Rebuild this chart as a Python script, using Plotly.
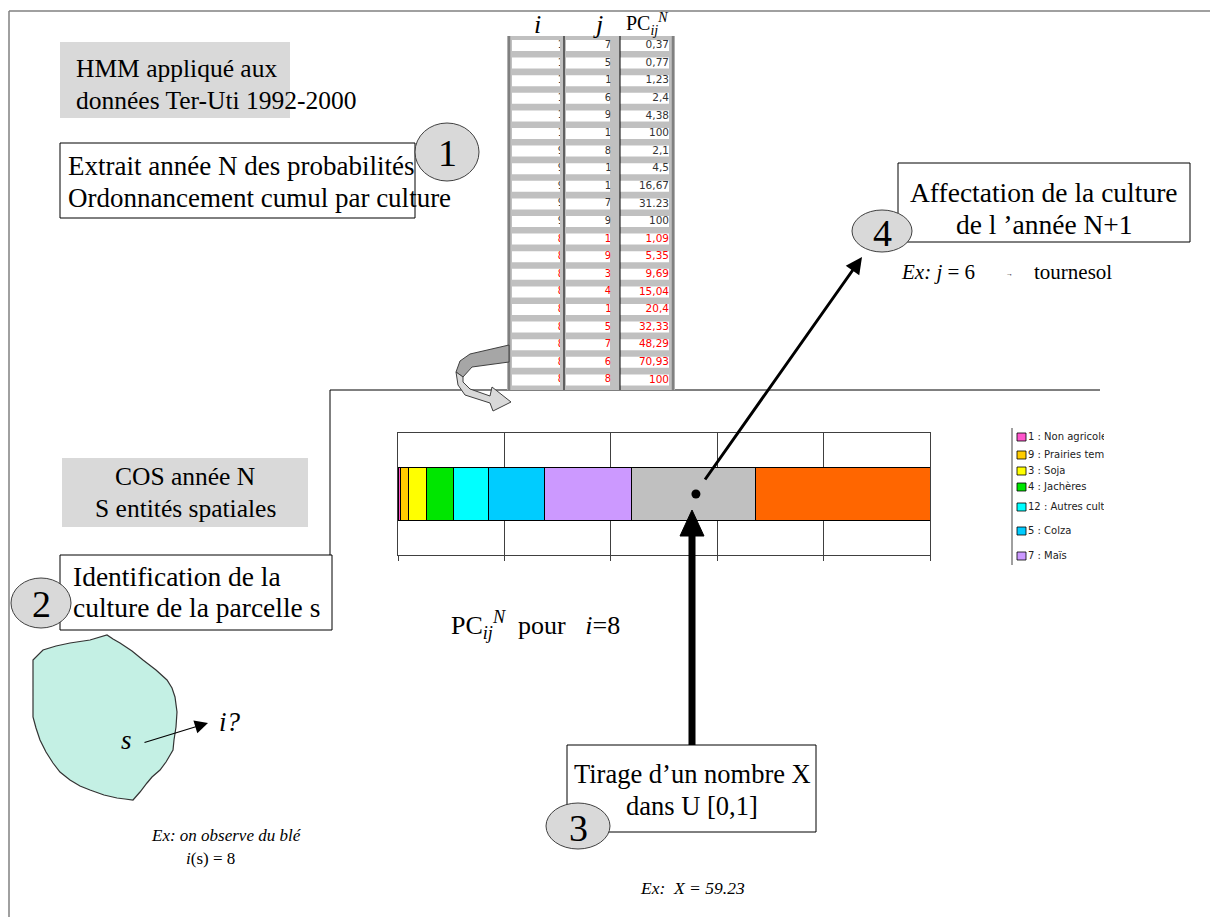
import plotly.graph_objects as go

W, H = 1218, 917
OFF = 8  # browser body margin compensation
SERIF = "Liberation Serif"
SANS = "DejaVu Sans"

# ---------------- data ----------------
# probability table (year N) : i, j, cumulated PC_ij^N
tbl_i = [1, 1, 1, 1, 1, 1, 9, 9, 9, 9, 9, 8, 8, 8, 8, 8, 8, 8, 8, 8]
tbl_j = [7, 5, 12, 6, 9, 1, 8, 12, 1, 7, 9, 1, 9, 3, 4, 12, 5, 7, 6, 8]
tbl_pc = ["0,37", "0,77", "1,23", "2,4", "4,38", "100", "2,1", "4,5", "16,67",
          "31.23", "100", "1,09", "5,35", "9,69", "15,04", "20,4", "32,33",
          "48,29", "70,93", "100"]

# stacked bar for i = 8 (segment widths, in %)
bar_j = [1, 9, 3, 4, 12, 5, 7, 6, 8]
bar_width = [0.5, 1.4, 3.4, 5.2, 6.6, 10.5, 16.2, 23.4, 32.8]
crop_color = {1: "#ff55cc", 9: "#ffcc00", 3: "#ffff00", 4: "#00e600",
              12: "#00ffff", 5: "#00ccff", 7: "#cc99ff", 6: "#c0c0c0", 8: "#ff6600"}

legend_j = [1, 9, 3, 4, 12, 5, 7]
legend_labels = ["1 : Non agricole", "9 : Prairies temporaires", "3 : Soja",
                 "4 : Jachères", "12 : Autres cultures", "5 : Colza", "7 : Maïs"]

draw_x = 56.0  # drawn point on the bar

# ---------------- figure ----------------
fig = go.Figure()

for j, w in zip(bar_j, bar_width):
    fig.add_trace(go.Bar(x=[w], y=[0], orientation="h", width=0.43,
                         marker=dict(color=crop_color[j], line=dict(color="#000", width=1)),
                         xaxis="x2", yaxis="y2", showlegend=False, hoverinfo="skip"))
fig.add_trace(go.Scatter(x=[draw_x], y=[0], mode="markers", xaxis="x2", yaxis="y2",
                         marker=dict(color="#000", size=9), showlegend=False, hoverinfo="skip"))

row_top0, row_pitch, row_h = 40, 17.6, 11
row_y = [row_top0 + row_pitch * k + row_h / 2 for k in range(len(tbl_i))]
row_col = ["#ff0000" if i == 8 else "#333333" for i in tbl_i]

fig.add_trace(go.Scatter(x=[564] * len(tbl_i), y=row_y, mode="text",
                         text=[str(v) for v in tbl_i], textposition="middle left",
                         textfont=dict(family=SANS, size=10, color=row_col),
                         showlegend=False, hoverinfo="skip"))
fig.add_trace(go.Scatter(x=[611 if v < 10 else 618 for v in tbl_j], y=row_y, mode="text",
                         text=[str(v) for v in tbl_j], textposition="middle left",
                         textfont=dict(family=SANS, size=10, color=row_col),
                         showlegend=False, hoverinfo="skip"))
fig.add_trace(go.Scatter(x=[669] * len(tbl_pc), y=row_y, mode="text",
                         text=tbl_pc, textposition="middle left",
                         textfont=dict(family=SANS, size=10.5, color=row_col),
                         showlegend=False, hoverinfo="skip"))

leg_y = [437, 455, 471, 487, 507, 531, 556]
fig.add_trace(go.Scatter(x=[1028] * len(legend_labels), y=leg_y, mode="text",
                         text=legend_labels, textposition="middle right",
                         textfont=dict(family=SANS, size=10, color="#222"),
                         showlegend=False, hoverinfo="skip"))

shapes = []


def rect(x0, y0, x1, y1, fill="white", line="#000", lw=1, layer="below"):
    shapes.append(dict(type="rect", x0=x0, y0=y0, x1=x1, y1=y1, xref="x", yref="y",
                       fillcolor=fill, line=dict(color=line, width=lw), layer=layer))


def line(x0, y0, x1, y1, color="#000", lw=1, layer="below"):
    shapes.append(dict(type="line", x0=x0, y0=y0, x1=x1, y1=y1, xref="x", yref="y",
                       line=dict(color=color, width=lw), layer=layer))


def ellipse(cx, cy, rx, ry):
    shapes.append(dict(type="circle", x0=cx - rx, y0=cy - ry, x1=cx + rx, y1=cy + ry,
                       xref="x", yref="y", fillcolor="#d9d9d9",
                       line=dict(color="#404040", width=1), layer="above"))


def path(d, fill, line_c="#404040", lw=1, layer="above"):
    shapes.append(dict(type="path", path=d, xref="x", yref="y", fillcolor=fill,
                       line=dict(color=line_c, width=lw), layer=layer))


# outer frame (bottom edge lies below the page)
line(9, 11, 1212, 11, color="#808080", lw=1.5)
line(9, 11, 9, 917, color="#808080", lw=1.5)
line(1212, 11, 1212, 917, color="#808080", lw=1.5)

rect(60, 42, 290, 118, fill="#d9d9d9", lw=0)
rect(60, 143, 415, 218)
rect(62, 458, 308, 527, fill="#d9d9d9", lw=0)
rect(60, 555, 332, 630)
rect(567, 745, 816, 832)
rect(898, 163, 1190, 242)

line(330, 390, 1100, 390)
line(330, 390, 330, 555)

rect(507, 36, 675, 390, fill="#c0c0c0", lw=0)
for k in range(len(tbl_i)):
    y0 = row_top0 + row_pitch * k
    rect(512, y0, 560, y0 + row_h, fill="white", lw=0)
    rect(566, y0, 610, y0 + row_h, fill="white", lw=0)
    rect(616, y0, 669, y0 + row_h, fill="white", lw=0)
rect(560, 36, 564, 390, fill="#c0c0c0", lw=0, layer="above")
rect(610.5, 36, 620, 390, fill="#c0c0c0", lw=0, layer="above")
line(509, 36, 509, 390, color="#808080", lw=2.5, layer="above")
line(564, 36, 564, 390, color="#000", lw=1, layer="above")
line(620, 36, 620, 390, color="#000", lw=1, layer="above")
line(673, 36, 673, 390, color="#808080", lw=2.5, layer="above")

path("M 509,345 L 470,354 L 460,361 L 456,372 L 463,377 L 472,367 L 509,362 Z", "#a6a6a6")
path("M 456,372 L 458,385 L 465,395 L 490,403 L 493,411 L 511,402 L 492,387 "
     "L 490,396 L 470,389 L 463,382 L 463,377 Z", "#d9d9d9")

line(1012, 428, 1012, 565, color="#404040")
for j, y in zip(legend_j, leg_y):
    rect(1017, y - 4, 1026, y + 4, fill=crop_color[j], line="#000", lw=0.8)
rect(1104, 420, 1205, 600, fill="white", lw=0, layer="above")
rect(1013, 563, 1104, 600, fill="white", lw=0, layer="above")

path("M 33,660 L 43,650 L 56,646 L 70,643 L 90,640 L 107,635 L 113,639 L 120,643 "
     "L 132,651 L 143,660 L 156,670 L 167,680 L 172,688 L 175,697 L 177,712 L 176,727 "
     "L 174,740 L 173,750 L 166,762 L 160,770 L 152,777 L 147,783 L 140,792 L 133,800 "
     "L 125,799 L 117,798 L 104,795 L 90,790 L 80,786 L 70,780 L 60,772 L 53,763 "
     "L 46,752 L 40,740 L 36,728 L 33,717 L 33,690 Z", "#c4f0e4", "#333333", 1.2, "below")

line(692, 745, 692, 532, lw=7, layer="above")
path("M 680,536 L 704,536 L 692,510 Z", "#000", "#000", 1)

ellipse(447, 152, 32, 29)
ellipse(41, 603, 30, 25)
ellipse(578, 826, 32, 23)
ellipse(882, 231, 30, 21)

fig.update_layout(shapes=shapes)

ann = []


def text(x, y, s, size=27, xanchor="left", italic=False, family=SERIF, color="#000"):
    ann.append(dict(x=x, y=y, xref="x", yref="y", text=s, showarrow=False,
                    xanchor=xanchor, yanchor="middle", align=xanchor if xanchor != "center" else "center",
                    font=dict(family=family, size=size, color=color,
                              style="italic" if italic else "normal")))


text(74, 68, "HMM appliqué aux", 25.5)
text(74, 100, "données Ter-Uti 1992-2000", 25.5)
text(66, 166, "Extrait année N des probabilités", 27)
text(66, 198, "Ordonnancement cumul par culture", 27)
text(185, 476, "COS année N", 25.5, "center")
text(185, 508, "S entités spatiales", 25.5, "center")
text(71, 576, "Identification de la", 27.5)
text(71, 607, "culture de la parcelle s", 27.5)
text(692, 774, "Tirage d’un nombre X", 26.5, "center")
text(692, 806, "dans U [0,1]", 26.5, "center")
text(1044, 192, "Affectation de la culture", 27.5, "center")
text(1044, 224, "de l ’année N+1", 27.5, "center")

text(447, 153, "1", 38, "center")
text(41, 604, "2", 38, "center")
text(578, 828, "3", 38, "center")
text(882, 233, "4", 38, "center")

text(537, 24, "i", 26, "center", italic=True)
text(598, 24, "j", 26, "center", italic=True)
text(624, 24, "PC<sub><i>ij</i></sub><sup><i>N</i></sup>", 20)

text(449, 625, "PC<sub><i>ij</i></sub><sup><i>N</i></sup>  pour   <i>i</i>=8", 26)

text(899, 272, "<i>Ex: j</i> = 6", 21)
text(1004, 274, "→", 7)
text(1032, 272, "tournesol", 21)

text(126, 740, "s", 27, "center", italic=True)
text(217, 722, "i?", 27, italic=True)
text(226, 835, "Ex: on observe du blé", 17, "center", italic=True)
text(210, 858, "<i>i</i>(s) = 8", 17, "center")
text(692, 888, "Ex:  X = 59.23", 17.5, "center", italic=True)

ann.append(dict(x=862, y=257, ax=704, ay=481, xref="x", yref="y", axref="x", ayref="y",
                text="", showarrow=True, arrowhead=2, arrowsize=1.1, arrowwidth=3,
                arrowcolor="#000", standoff=0))
ann.append(dict(x=208, y=723, ax=143, ay=743, xref="x", yref="y", axref="x", ayref="y",
                text="", showarrow=True, arrowhead=2, arrowsize=2.2, arrowwidth=1.2,
                arrowcolor="#000", standoff=0))

PW, PH = W - OFF, H - OFF


def fx(px):
    return (px - OFF) / PW


def fy(py):
    return 1 - (py - OFF) / PH


fig.update_layout(
    annotations=ann,
    width=PW, height=PH,
    margin=dict(l=0, r=0, t=0, b=0),
    paper_bgcolor="white", plot_bgcolor="rgba(0,0,0,0)",
    barmode="stack", showlegend=False,
    xaxis=dict(range=[OFF, W], visible=False, domain=[0, 1], fixedrange=True),
    yaxis=dict(range=[H, OFF], visible=False, domain=[0, 1], fixedrange=True),
    xaxis2=dict(range=[0, 100], domain=[fx(398), fx(930)], anchor="y2",
                showgrid=True, gridcolor="#404040", gridwidth=1, dtick=20, tick0=0,
                showline=True, mirror=True, linecolor="#404040", linewidth=1,
                ticks="outside", ticklen=5, tickcolor="#404040",
                showticklabels=False, zeroline=False, fixedrange=True),
    yaxis2=dict(range=[-0.5, 0.5], domain=[fy(555), fy(433)], anchor="x2",
                showgrid=False, showline=True, mirror=True, linecolor="#404040",
                showticklabels=False, ticks="", zeroline=False, fixedrange=True),
)

fig.write_html("out.html")
